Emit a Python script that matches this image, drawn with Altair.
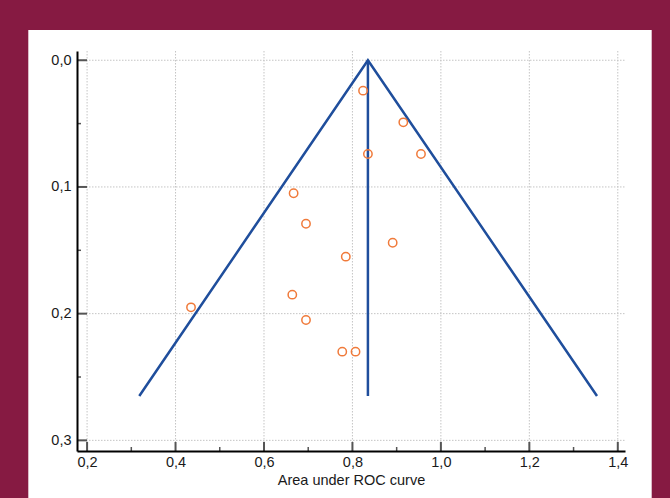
import altair as alt
import pandas as pd

# ---- data ----
auc = [0.824, 0.915, 0.835, 0.955, 0.667, 0.695, 0.785, 0.891, 0.435, 0.664, 0.695, 0.777, 0.807]
se = [0.024, 0.049, 0.074, 0.074, 0.105, 0.129, 0.155, 0.144, 0.195, 0.185, 0.205, 0.230, 0.230]

funnel_x = [0.318, 0.835, 1.353]
funnel_y = [0.265, 0.0, 0.265]
summary_x = [0.835, 0.835]
summary_y = [0.0, 0.265]

x_major = [0.2, 0.4, 0.6, 0.8, 1.0, 1.2, 1.4]
x_minor = [0.3, 0.5, 0.7, 0.9, 1.1, 1.3]
y_major = [0.0, 0.1, 0.2, 0.3]
y_minor = [0.05, 0.15, 0.25]

# ---- layout ----
W, H = 548, 400
PAD = {"left": 77, "top": 51, "right": 45, "bottom": 47}
FRAME = "#861A42"
BLUE = "#1F4E9C"
ORANGE = "#F07A3A"
FONT = "Liberation Sans"

xscale = alt.Scale(domain=[0.1772, 1.4163], nice=False, zero=False)
yscale = alt.Scale(domain=[-0.0073, 0.3084], nice=False, zero=False, reverse=True)

xaxis = alt.Axis(values=x_major, labelExpr="replace(format(datum.value, '.1f'), '.', ',')",
                 title="Area under ROC curve", grid=False, ticks=False, zindex=1,
                 labelPadding=4, titlePadding=5)
yaxis = alt.Axis(values=y_major, labelExpr="replace(format(datum.value, '.1f'), '.', ',')",
                 title=None, grid=False, ticks=False, zindex=1, labelPadding=6)

def X(f):
    return alt.X(f, type="quantitative", scale=xscale, axis=xaxis, title="Area under ROC curve")

def Y(f):
    return alt.Y(f, type="quantitative", scale=yscale, axis=yaxis)

one = pd.DataFrame({"a": [0]})

white = alt.Chart(one).mark_rect(color="white").encode(
    x=alt.value(28.3 - PAD["left"]), x2=alt.value(651.7 - PAD["left"]),
    y=alt.value(30 - PAD["top"]), y2=alt.value(H + PAD["bottom"] + 5),
)

grid_style = dict(color="#c4c4c4", strokeWidth=1, strokeDash=[1.5, 1.5])
vgrid = alt.Chart(pd.DataFrame({"x": x_major})).mark_rule(**grid_style).encode(
    x=X("x"), y=alt.value(0), y2=alt.value(H))
hgrid = alt.Chart(pd.DataFrame({"y": y_major})).mark_rule(**grid_style).encode(
    y=Y("y"), x=alt.value(0), x2=alt.value(W))

tick_col = "#555555"
xt_major = alt.Chart(pd.DataFrame({"x": x_major})).mark_rule(color=tick_col, strokeWidth=2).encode(
    x=X("x"), y=alt.value(H), y2=alt.value(H - 9))
xt_minor = alt.Chart(pd.DataFrame({"x": x_minor})).mark_rule(color=tick_col, strokeWidth=1.5).encode(
    x=X("x"), y=alt.value(H), y2=alt.value(H - 4))
yt_major = alt.Chart(pd.DataFrame({"y": y_major})).mark_rule(color=tick_col, strokeWidth=2).encode(
    y=Y("y"), x=alt.value(0), x2=alt.value(10))
yt_minor = alt.Chart(pd.DataFrame({"y": y_minor})).mark_rule(color=tick_col, strokeWidth=1.5).encode(
    y=Y("y"), x=alt.value(0), x2=alt.value(4))

funnel = alt.Chart(pd.DataFrame({"x": funnel_x, "y": funnel_y, "o": [0, 1, 2]})).mark_line(
    color=BLUE, strokeWidth=2.5).encode(x=X("x"), y=Y("y"), order="o:Q")
summary = alt.Chart(pd.DataFrame({"x": summary_x, "y": summary_y, "o": [0, 1]})).mark_line(
    color=BLUE, strokeWidth=2.5).encode(x=X("x"), y=Y("y"), order="o:Q")

points = alt.Chart(pd.DataFrame({"x": auc, "y": se})).mark_point(
    shape="circle", filled=False, color=ORANGE, size=70, strokeWidth=1.5, opacity=1).encode(
    x=X("x"), y=Y("y"))

chart = alt.layer(white, vgrid, hgrid, xt_major, xt_minor, yt_major, yt_minor,
                  funnel, summary, points).properties(
    width=W, height=H,
    autosize=alt.AutoSizeParams(type="none"),
    padding=PAD,
    background=FRAME,
).configure_view(stroke=None).configure_axis(
    domainColor="black", domainWidth=2,
    labelFont=FONT, labelFontSize=14.5, labelColor="#1a1a1a",
    titleFont=FONT, titleFontSize=14.5, titleColor="#1a1a1a", titleFontWeight="normal",
)

chart.save("out.html", embed_options={"renderer": "svg", "actions": False})
